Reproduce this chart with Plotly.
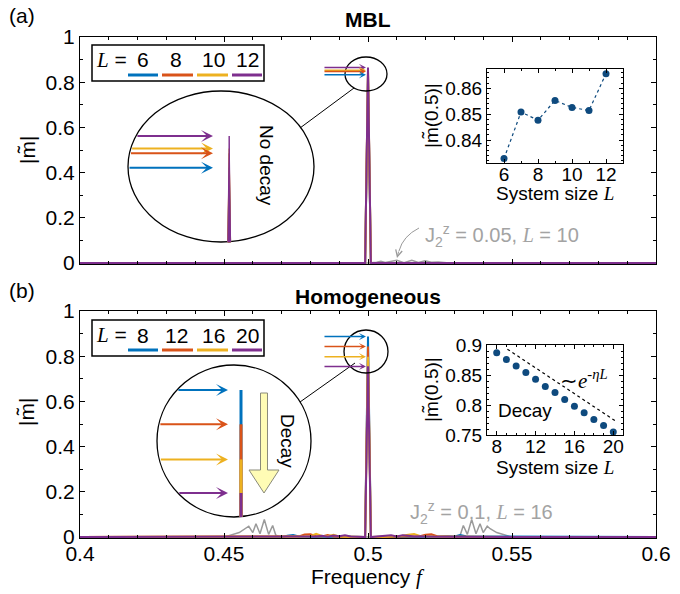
import math
import plotly.graph_objects as go

# ---------------- data ----------------
# colours of the system sizes (MATLAB default order)
C_BLUE, C_ORANGE, C_YELLOW, C_PURPLE = "#0072BD", "#D95319", "#EDB120", "#7E2F8E"
SERIES_COLORS = [C_BLUE, C_ORANGE, C_YELLOW, C_PURPLE]
GRAY = "#9a9a9a"
DOT = "#0E4A7E"

# Panel (a): MBL
L_mbl = [6, 8, 10, 12]
freq_a = [0.400, 0.4990, 0.5000, 0.5010, 0.600]
m_a_L6 = [0, 0, 0.8329, 0, 0]
m_a_L8 = [0, 0, 0.8477, 0, 0]
m_a_L10 = [0, 0, 0.8526, 0, 0]
m_a_L12 = [0, 0, 0.8656, 0, 0]
gray_a_freq = [0.400, 0.5000, 0.5030, 0.5045, 0.5060, 0.5078, 0.5100, 0.5125, 0.5152,
               0.5175, 0.5198, 0.5220, 0.5244, 0.5273, 0.5320, 0.600]
gray_a_m = [0, 0, 0.004, 0.008, 0.003, 0.006, 0.012, 0.002, 0.012,
            0.003, 0.010, 0.004, 0.005, 0.002, 0.0, 0]

# Panel (b): homogeneous
L_hom = [8, 12, 16, 20]
freq_b = [0.400, 0.470, 0.472, 0.474, 0.476, 0.478, 0.480, 0.482, 0.484, 0.486, 0.488,
          0.490, 0.492, 0.494, 0.499, 0.500, 0.501, 0.506, 0.508, 0.510, 0.512, 0.514,
          0.516, 0.518, 0.520, 0.522, 0.524, 0.526, 0.528, 0.530, 0.532, 0.534, 0.600]
m_b_L8 = [0, 0, 0.006, 0.009, 0.003, 0.002, 0.001, 0.002, 0.001, 0.002, 0.001,
          0.002, 0.001, 0.001, 0, 0.887, 0, 0.001, 0.002, 0.001, 0.002, 0.001,
          0.002, 0.001, 0.002, 0.001, 0.003, 0.002, 0.004, 0.003, 0.009, 0.004, 0]
m_b_L12 = [0, 0, 0.001, 0.002, 0.003, 0.011, 0.012, 0.004, 0.003, 0.009, 0.003,
           0.002, 0.003, 0.001, 0, 0.843, 0, 0.001, 0.002, 0.003, 0.002, 0.004,
           0.003, 0.004, 0.010, 0.012, 0.004, 0.002, 0.001, 0.001, 0.001, 0.001, 0]
m_b_L16 = [0, 0, 0.001, 0.001, 0.002, 0.003, 0.004, 0.014, 0.005, 0.004, 0.010,
           0.003, 0.002, 0.001, 0, 0.798, 0, 0.002, 0.003, 0.004, 0.006, 0.010,
           0.014, 0.005, 0.003, 0.002, 0.001, 0.001, 0.001, 0.001, 0.001, 0.001, 0]
m_b_L20 = [0, 0, 0.001, 0.001, 0.001, 0.002, 0.001, 0.003, 0.006, 0.002, 0.007,
           0.004, 0.008, 0.003, 0, 0.755, 0, 0.004, 0.008, 0.003, 0.008, 0.006,
           0.003, 0.004, 0.002, 0.001, 0.001, 0.001, 0.001, 0.001, 0.001, 0.001, 0]
gray_b_freq = [0.400, 0.4500, 0.4553, 0.4576, 0.4586, 0.4600, 0.4611, 0.4625, 0.4640,
               0.4655, 0.4669, 0.4680, 0.4700, 0.5000, 0.5300, 0.5320, 0.5331, 0.5345,
               0.5360, 0.5375, 0.5389, 0.5400, 0.5414, 0.5424, 0.5447, 0.5500, 0.600]
gray_b_m = [0, 0, 0.020, 0.037, 0.048, 0.020, 0.059, 0.015, 0.078,
            0.012, 0.051, 0.008, 0.0, 0, 0, 0.008, 0.051, 0.012,
            0.078, 0.015, 0.059, 0.020, 0.048, 0.037, 0.020, 0, 0]

# Insets: |m(0.5)| vs system size
inset_a_L = [6, 7, 8, 9, 10, 11, 12]
inset_a_m = [0.8329, 0.8508, 0.8477, 0.8553, 0.8526, 0.8514, 0.8656]
inset_b_L = [8, 9, 10, 11, 12, 13, 14, 15, 16, 17, 18, 19, 20]
inset_b_m = [0.887, 0.876, 0.865, 0.854, 0.843, 0.831, 0.821, 0.809, 0.798,
             0.787, 0.776, 0.766, 0.755]
fit_b_L = [9.1, 20.4]
fit_b_m = [0.893, 0.7715]

# ---------------- helpers (pixel -> paper) ----------------
W, H = 680, 594
def X(p): return p / W
def Y(p): return 1 - p / H

FONT = "Liberation Sans, Arial, sans-serif"
SERIF_L = "<span style=\"font-family:'Liberation Serif'\"><i>L</i></span>"

fig = go.Figure()

# ---------------- traces ----------------
fig.add_trace(go.Scatter(x=gray_a_freq, y=gray_a_m, mode="lines",
                         line=dict(color=GRAY, width=1.5), xaxis="x", yaxis="y"))
for vals, c in zip([m_a_L6, m_a_L8, m_a_L10, m_a_L12], SERIES_COLORS):
    fig.add_trace(go.Scatter(x=freq_a, y=vals, mode="lines",
                             line=dict(color=c, width=2), xaxis="x", yaxis="y"))

fig.add_trace(go.Scatter(x=gray_b_freq, y=gray_b_m, mode="lines",
                         line=dict(color=GRAY, width=1.5), xaxis="x2", yaxis="y2"))
for vals, c in zip([m_b_L8, m_b_L12, m_b_L16, m_b_L20], SERIES_COLORS):
    fig.add_trace(go.Scatter(x=freq_b, y=vals, mode="lines",
                             line=dict(color=c, width=2), xaxis="x2", yaxis="y2"))

fig.add_trace(go.Scatter(x=inset_a_L, y=inset_a_m, mode="lines+markers",
                         line=dict(color=DOT, width=1.2, dash="dot"),
                         marker=dict(size=7, color=DOT), xaxis="x3", yaxis="y3"))
fig.add_trace(go.Scatter(x=fit_b_L, y=fit_b_m, mode="lines",
                         line=dict(color="black", width=1.2, dash="dot"),
                         xaxis="x4", yaxis="y4"))
fig.add_trace(go.Scatter(x=inset_b_L, y=inset_b_m, mode="markers",
                         marker=dict(size=7, color=DOT), xaxis="x4", yaxis="y4"))

# ---------------- axes ----------------
def ax(**kw):
    d = dict(showline=True, linecolor="black", linewidth=1, mirror="ticks",
             ticks="inside", ticklen=5, tickcolor="black", showgrid=False,
             zeroline=False, automargin=False,
             tickfont=dict(size=21, color="black", family=FONT))
    d.update(kw)
    return d

def minor(dt, ln=3):
    return dict(ticks="inside", ticklen=ln, dtick=dt, tickcolor="black", showgrid=False)

INSET_FONT = dict(size=19, color="black", family=FONT)
main_x = [X(80), X(656)]
fig.update_layout(
    xaxis=ax(domain=main_x, anchor="y", range=[0.4, 0.6], tick0=0.4, dtick=0.05,
             showticklabels=False, minor=minor(0.01)),
    yaxis=ax(domain=[Y(264), Y(37)], anchor="x", range=[-0.004, 1], tick0=0, dtick=0.2,
             minor=minor(0.1)),
    xaxis2=ax(domain=main_x, anchor="y2", range=[0.4, 0.6], tick0=0.4, dtick=0.05,
              minor=minor(0.01), ticklabelstandoff=-3),
    yaxis2=ax(domain=[Y(538), Y(311)], anchor="x2", range=[-0.004, 1], tick0=0, dtick=0.2,
              minor=minor(0.1)),
    xaxis3=ax(domain=[X(487), X(623)], anchor="y3", range=[5, 13], tick0=6, dtick=2,
              ticklen=4, minor=minor(1, 2), tickfont=INSET_FONT, ticklabelstandoff=-6),
    yaxis3=ax(domain=[Y(163), Y(69)], anchor="x3", range=[0.8312, 0.8674], tick0=0.84,
              dtick=0.01, ticklen=4, minor=minor(0.002, 2), tickfont=INSET_FONT),
    xaxis4=ax(domain=[X(487), X(623)], anchor="y4", range=[7, 21], tick0=8, dtick=4,
              ticklen=4, minor=minor(1, 2), tickfont=INSET_FONT, ticklabelstandoff=-6),
    yaxis4=ax(domain=[Y(435), Y(345)], anchor="x4", range=[0.75, 0.9], tick0=0.75,
              dtick=0.05, ticklen=4, minor=minor(0.01, 2), tickfont=INSET_FONT),
)

# ---------------- decorations ----------------
shapes = []
annotations = []

def text(x, y, t, size=21, color="black", angle=0, **kw):
    annotations.append(dict(xref="paper", yref="paper", x=X(x), y=Y(y), text=t,
                            showarrow=False, xanchor="center", yanchor="middle",
                            textangle=angle, font=dict(size=size, color=color, family=FONT), **kw))

def line(x0, y0, x1, y1, color="black", width=1, dash=None):
    shapes.append(dict(type="line", xref="paper", yref="paper", x0=X(x0), y0=Y(y0),
                       x1=X(x1), y1=Y(y1), line=dict(color=color, width=width, dash=dash),
                       layer="above"))

def ellipse(cx, cy, rx, ry):
    shapes.append(dict(type="circle", xref="paper", yref="paper", x0=X(cx - rx), x1=X(cx + rx),
                       y0=Y(cy + ry), y1=Y(cy - ry), line=dict(color="black", width=1.3),
                       layer="above"))

def path(pts, fill=None, color="black", width=1):
    p = "M " + " L ".join(f"{X(a):.5f},{Y(b):.5f}" for a, b in pts) + " Z"
    shapes.append(dict(type="path", xref="paper", yref="paper", path=p,
                       fillcolor=fill if fill else "rgba(0,0,0,0)",
                       line=dict(color=color, width=width), layer="above"))

def arrow_px(tipx, tipy, tailx, taily, color, width=2, size=1.0, head=3):
    annotations.append(dict(xref="paper", yref="paper", x=X(tipx), y=Y(tipy), text="",
                            showarrow=True, ax=tailx - tipx, ay=taily - tipy,
                            arrowcolor=color, arrowwidth=width, arrowsize=size,
                            arrowhead=head, standoff=0))

def arrow_data(xa, ya, tipf, val, length, color, width=1.5, size=0.9):
    annotations.append(dict(xref=xa, yref=ya, x=tipf, y=val, text="", showarrow=True,
                            ax=-length, ay=0, arrowcolor=color, arrowwidth=width,
                            arrowsize=size, arrowhead=3, standoff=0))

# labels / titles
text(22, 15, "(a)")
text(22, 290, "(b)")
text(368, 19, "<b>MBL</b>")
text(368, 296, "<b>Homogeneous</b>")
text(27, 150, "|m\u0303|", angle=-90)
text(27, 412, "|m\u0303|", angle=-90)
text(368, 577, "Frequency <span style=\"font-family:'Liberation Serif'\"><i>f</i></span>")

# inset titles
text(431, 116, "|m\u0303(0.5)|", size=19, angle=-90)
text(431, 390, "|m\u0303(0.5)|", size=19, angle=-90)
text(555, 193, "System size " + SERIF_L, size=19)
text(555, 467, "System size " + SERIF_L, size=19)
text(525, 410, "Decay", size=19)
text(584, 379, "\u223c<span style=\"font-family:'Liberation Serif'\"><i>e</i><sup>-<i>\u03b7L</i></sup></span>", size=21)

# legends
for top, labels in [(45, L_mbl), (320, L_hom)]:
    shapes.append(dict(type="rect", xref="paper", yref="paper", x0=X(92), x1=X(264),
                       y0=Y(top + 36), y1=Y(top), line=dict(color="black", width=1.5),
                       fillcolor="white", layer="above"))
    text(111, top + 15, SERIF_L + " =", size=21)
    for cx, lab, (x0, x1), c in zip([143, 176, 213, 247], labels,
                                    [(128, 158), (162, 193), (197, 228), (232, 262)],
                                    SERIES_COLORS):
        text(cx, top + 15, str(lab), size=21)
        line(x0, top + 30, x1, top + 30, color=c, width=3)

# gray annotations
text(502, 236, "J<sub>2</sub><sup>z</sup> = 0.05, " + SERIF_L + " = 10", size=20, color="#a3a3a3")
shapes.append(dict(type="path", xref="paper", yref="paper",
                   path=f"M {X(419):.5f},{Y(228):.5f} Q {X(403):.5f},{Y(236):.5f} {X(399):.5f},{Y(251):.5f}",
                   line=dict(color=GRAY, width=1), layer="above"))
arrow_px(397, 258, 399, 250, GRAY, width=1, size=1.3, head=5)
text(481, 512, "J<sub>2</sub><sup>z</sup> = 0.1, " + SERIF_L + " = 16", size=20, color="#a3a3a3")

# ---- panel (a) magnifier ----
ellipse(366, 74, 21, 17)
BIG_A = (221, 166.5, 93, 75.5)
ellipse(*BIG_A)
line(300, 128, 354, 88)
ZA_Y0, ZA_V0, ZA_S = 136, max(inset_a_m), 970.0   # magnification of the peak region
peaks_a = [max(m_a_L6), max(m_a_L8), max(m_a_L10), max(m_a_L12)]
for v, c in zip(peaks_a, SERIES_COLORS):
    yt = ZA_Y0 + (ZA_V0 - v) * ZA_S
    path([(227.8, 242), (229.2, yt), (230.6, 242)], fill=c, color=c, width=1)
order_a = [3, 2, 1, 0]
for i in order_a:
    v = peaks_a[i]
    yt = ZA_Y0 + (ZA_V0 - v) * ZA_S
    cx, cy, rx, ry = BIG_A
    tail = cx - rx * math.sqrt(max(0.0, 1 - ((yt - cy) / ry) ** 2))
    arrow_px(213, yt, tail, yt, SERIES_COLORS[i], width=2, size=1.0)
    arrow_data("x", "y", 0.4993, v, 43, SERIES_COLORS[i], width=1.5, size=0.8)
text(267, 165, "No decay", size=19, angle=90)

# ---- panel (b) magnifier ----
ellipse(366, 351.5, 22, 21.5)
BIG_B = (234, 441, 77, 76)
ellipse(*BIG_B)
line(300, 402, 355, 363)
ZB_Y0, ZB_V0, ZB_S = 390, max(inset_b_m), 780.0
peaks_b = [max(m_b_L8), max(m_b_L12), max(m_b_L16), max(m_b_L20)]
for v, c in zip(peaks_b, SERIES_COLORS):
    yt = ZB_Y0 + (ZB_V0 - v) * ZB_S
    line(241, yt, 241, 517, color=c, width=3)
for v, c in zip(peaks_b, SERIES_COLORS):
    yt = ZB_Y0 + (ZB_V0 - v) * ZB_S
    cx, cy, rx, ry = BIG_B
    tail = cx - rx * math.sqrt(max(0.0, 1 - ((yt - cy) / ry) ** 2))
    arrow_px(228, yt, tail, yt, c, width=2, size=1.0)
    arrow_data("x2", "y2", 0.4993, v, 43, c, width=1.5, size=0.8)
# yellow block arrow "Decay"
path([(260.5, 393), (267.5, 393), (267.5, 470), (279, 470), (264, 493),
      (249, 470), (260.5, 470)], fill="#FFFCB5", color="#8a8a7a", width=1)
text(288, 441, "Decay", size=19, angle=90)

fig.update_layout(
    width=W, height=H, autosize=False,
    margin=dict(l=0, r=0, t=0, b=0),
    paper_bgcolor="white", plot_bgcolor="white",
    showlegend=False,
    font=dict(family=FONT, size=21, color="black"),
    shapes=shapes, annotations=annotations,
)

fig.write_html("out.html")
